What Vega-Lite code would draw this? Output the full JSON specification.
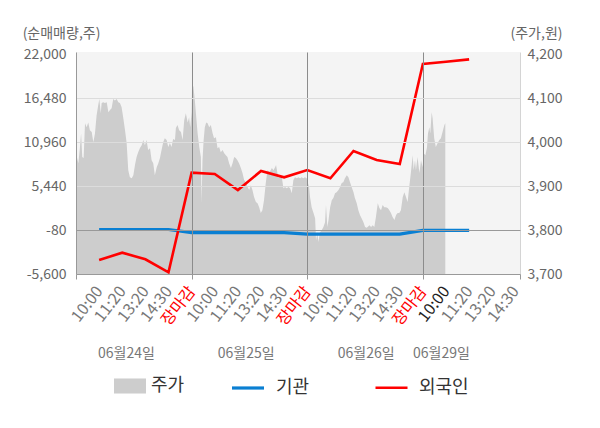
{
  "$schema": "https://vega.github.io/schema/vega-lite/v6.json",
  "width": 444,
  "height": 222,
  "autosize": {"type": "none"},
  "padding": {"left": 76, "top": 52, "right": 80, "bottom": 154},
  "background": "white",
  "config": {
    "font": "Noto Sans CJK KR",
    "view": {"fill": "#f4f4f4", "stroke": null},
    "axis": {"labelFont": "Noto Sans CJK KR", "titleFont": "Noto Sans CJK KR"},
    "legend": {"labelFont": "Noto Sans CJK KR"}
  },
  "datasets": {
    "price": [
      {"s":0,"p":3975},{"s":0.10,"p":3952},{"s":0.16,"p":3982},{"s":0.22,"p":4020},{"s":0.27,"p":3966},{"s":0.33,"p":3964},{"s":0.39,"p":4043},{"s":0.46,"p":4034},{"s":0.53,"p":4045},{"s":0.60,"p":4027},{"s":0.68,"p":4023},{"s":0.75,"p":4000},{"s":0.82,"p":4020},{"s":0.89,"p":4061},{"s":0.96,"p":4084},{"s":1.01,"p":4098},{"s":1.07,"p":4066},{"s":1.11,"p":4089},{"s":1.18,"p":4091},{"s":1.25,"p":4089},{"s":1.33,"p":4091},{"s":1.40,"p":4068},{"s":1.47,"p":4073},{"s":1.54,"p":4077},{"s":1.61,"p":4098},{"s":1.68,"p":4095},{"s":1.76,"p":4098},{"s":1.83,"p":4091},{"s":1.90,"p":4089},{"s":1.97,"p":4080},{"s":2.04,"p":4057},{"s":2.12,"p":4027},{"s":2.19,"p":3998},{"s":2.26,"p":3936},{"s":2.33,"p":3920},{"s":2.41,"p":3918},{"s":2.48,"p":3925},{"s":2.55,"p":3948},{"s":2.62,"p":3966},{"s":2.69,"p":3977},{"s":2.76,"p":3986},{"s":2.84,"p":3993},{"s":2.91,"p":4005},{"s":2.98,"p":3993},{"s":3.05,"p":4005},{"s":3.12,"p":3982},{"s":3.20,"p":3986},{"s":3.27,"p":3959},{"s":3.34,"p":3952},{"s":3.41,"p":3925},{"s":3.49,"p":3943},{"s":3.56,"p":3952},{"s":3.63,"p":3964},{"s":3.70,"p":3982},{"s":3.77,"p":4000},{"s":3.84,"p":4009},{"s":3.92,"p":4005},{"s":3.99,"p":3989},{"s":4.06,"p":3998},{"s":4.13,"p":3989},{"s":4.20,"p":4007},{"s":4.28,"p":4005},{"s":4.32,"p":4032},{"s":4.39,"p":4039},{"s":4.46,"p":4027},{"s":4.54,"p":4023},{"s":4.61,"p":4005},{"s":4.68,"p":4050},{"s":4.75,"p":4066},{"s":4.83,"p":4045},{"s":4.89,"p":4057},{"s":4.94,"p":4034},{"s":5.00,"p":4068},{"s":5.02,"p":4136},{"s":5.08,"p":4125},{"s":5.14,"p":4095},{"s":5.20,"p":4057},{"s":5.26,"p":4020},{"s":5.33,"p":3989},{"s":5.40,"p":3966},{"s":5.43,"p":3861},{"s":5.47,"p":3959},{"s":5.52,"p":4005},{"s":5.57,"p":4034},{"s":5.63,"p":4045},{"s":5.69,"p":4043},{"s":5.76,"p":4034},{"s":5.83,"p":4039},{"s":5.91,"p":4020},{"s":5.97,"p":4009},{"s":6.05,"p":4011},{"s":6.12,"p":3986},{"s":6.19,"p":3989},{"s":6.26,"p":3977},{"s":6.34,"p":3982},{"s":6.41,"p":3975},{"s":6.48,"p":3970},{"s":6.55,"p":3966},{"s":6.62,"p":3952},{"s":6.70,"p":3941},{"s":6.77,"p":3952},{"s":6.84,"p":3966},{"s":6.91,"p":3964},{"s":6.98,"p":3959},{"s":7.05,"p":3952},{"s":7.13,"p":3941},{"s":7.20,"p":3930},{"s":7.27,"p":3914},{"s":7.34,"p":3909},{"s":7.42,"p":3898},{"s":7.49,"p":3891},{"s":7.56,"p":3902},{"s":7.63,"p":3891},{"s":7.70,"p":3875},{"s":7.78,"p":3864},{"s":7.85,"p":3861},{"s":7.92,"p":3852},{"s":7.99,"p":3839},{"s":8.06,"p":3845},{"s":8.13,"p":3868},{"s":8.21,"p":3909},{"s":8.28,"p":3936},{"s":8.35,"p":3932},{"s":8.42,"p":3936},{"s":8.47,"p":3941},{"s":8.54,"p":3936},{"s":8.61,"p":3943},{"s":8.65,"p":3948},{"s":8.71,"p":3930},{"s":8.77,"p":3918},{"s":8.83,"p":3925},{"s":8.90,"p":3920},{"s":8.97,"p":3895},{"s":9.04,"p":3898},{"s":9.11,"p":3895},{"s":9.19,"p":3898},{"s":9.26,"p":3895},{"s":9.33,"p":3884},{"s":9.40,"p":3914},{"s":9.47,"p":3920},{"s":9.55,"p":3918},{"s":9.62,"p":3920},{"s":9.69,"p":3918},{"s":9.76,"p":3920},{"s":9.83,"p":3918},{"s":9.90,"p":3920},{"s":9.98,"p":3918},{"s":10.02,"p":3909},{"s":10.08,"p":3898},{"s":10.12,"p":3875},{"s":10.19,"p":3852},{"s":10.27,"p":3839},{"s":10.34,"p":3827},{"s":10.38,"p":3777},{"s":10.44,"p":3795},{"s":10.48,"p":3773},{"s":10.55,"p":3795},{"s":10.63,"p":3800},{"s":10.70,"p":3807},{"s":10.77,"p":3818},{"s":10.81,"p":3857},{"s":10.87,"p":3807},{"s":10.92,"p":3823},{"s":10.99,"p":3852},{"s":11.06,"p":3868},{"s":11.13,"p":3873},{"s":11.20,"p":3884},{"s":11.27,"p":3886},{"s":11.35,"p":3891},{"s":11.42,"p":3898},{"s":11.49,"p":3907},{"s":11.56,"p":3909},{"s":11.63,"p":3918},{"s":11.71,"p":3925},{"s":11.78,"p":3920},{"s":11.85,"p":3909},{"s":11.92,"p":3898},{"s":12.00,"p":3886},{"s":12.06,"p":3873},{"s":12.14,"p":3861},{"s":12.21,"p":3845},{"s":12.28,"p":3834},{"s":12.35,"p":3827},{"s":12.43,"p":3818},{"s":12.50,"p":3807},{"s":12.57,"p":3805},{"s":12.61,"p":3807},{"s":12.69,"p":3811},{"s":12.76,"p":3807},{"s":12.83,"p":3811},{"s":12.90,"p":3807},{"s":12.97,"p":3830},{"s":13.05,"p":3861},{"s":13.12,"p":3850},{"s":13.19,"p":3845},{"s":13.26,"p":3857},{"s":13.33,"p":3852},{"s":13.40,"p":3852},{"s":13.48,"p":3850},{"s":13.55,"p":3845},{"s":13.62,"p":3839},{"s":13.69,"p":3830},{"s":13.77,"p":3823},{"s":13.84,"p":3834},{"s":13.91,"p":3839},{"s":13.98,"p":3839},{"s":14.05,"p":3845},{"s":14.13,"p":3875},{"s":14.20,"p":3886},{"s":14.27,"p":3875},{"s":14.34,"p":3864},{"s":14.41,"p":3898},{"s":14.48,"p":3930},{"s":14.56,"p":3970},{"s":14.60,"p":3936},{"s":14.66,"p":3959},{"s":14.70,"p":3936},{"s":14.77,"p":3966},{"s":14.85,"p":3930},{"s":14.92,"p":3959},{"s":14.99,"p":3943},{"s":15.03,"p":3975},{"s":15.11,"p":3970},{"s":15.18,"p":3989},{"s":15.22,"p":4020},{"s":15.28,"p":4034},{"s":15.32,"p":4020},{"s":15.38,"p":4068},{"s":15.42,"p":4055},{"s":15.49,"p":4009},{"s":15.56,"p":3989},{"s":15.64,"p":3998},{"s":15.71,"p":4005},{"s":15.78,"p":4009},{"s":15.85,"p":4023},{"s":15.93,"p":4039},{"s":15.97,"p":4043}
    ],
    "flow": [
      {"s":1,"series":"기관","v":-10},{"s":2,"series":"기관","v":-10},{"s":3,"series":"기관","v":-10},{"s":4,"series":"기관","v":-10},{"s":5,"series":"기관","v":-410},{"s":6,"series":"기관","v":-410},{"s":7,"series":"기관","v":-410},{"s":8,"series":"기관","v":-410},{"s":9,"series":"기관","v":-410},{"s":10,"series":"기관","v":-580},{"s":11,"series":"기관","v":-580},{"s":12,"series":"기관","v":-580},{"s":13,"series":"기관","v":-580},{"s":14,"series":"기관","v":-580},{"s":15,"series":"기관","v":-110},{"s":16,"series":"기관","v":-110},{"s":17,"series":"기관","v":-110},
      {"s":1,"series":"외국인","v":-3842},{"s":2,"series":"외국인","v":-2925},{"s":3,"series":"외국인","v":-3754},{"s":4,"series":"외국인","v":-5386},{"s":5,"series":"외국인","v":7123},{"s":6,"series":"외국인","v":6960},{"s":7,"series":"외국인","v":4950},{"s":8,"series":"외국인","v":7337},{"s":9,"series":"외국인","v":6546},{"s":10,"series":"외국인","v":7462},{"s":11,"series":"외국인","v":6420},{"s":12,"series":"외국인","v":9849},{"s":13,"series":"외국인","v":8718},{"s":14,"series":"외국인","v":8216},{"s":15,"series":"외국인","v":20776},{"s":16,"series":"외국인","v":21065},{"s":17,"series":"외국인","v":21366}
    ]
  },
  "layer": [
    {
      "data": {"name": "price"},
      "mark": {"type": "area", "interpolate": "linear"},
      "encoding": {
        "x": {
          "field": "s",
          "type": "quantitative",
          "scale": {"domain": [0, 19.2], "nice": false, "zero": false},
          "axis": {
            "orient": "bottom",
            "title": null,
            "values": [0, 1, 2, 3, 4, 5, 6, 7, 8, 9, 10, 11, 12, 13, 14, 15, 16, 17, 18, 19, 19.2],
            "labelExpr": "datum.value < 0.5 || datum.value > 19.1 ? '' : (datum.value % 5 == 0 ? '장마감' : ['', '10:00', '11:20', '13:20', '14:30'][datum.value % 5])",
            "labelAngle": -52,
            "labelAlign": "right",
            "labelBaseline": "middle",
            "labelFontSize": 16,
            "labelPadding": 9,
            "labelOverlap": false,
            "labelFlush": false,
            "labelColor": {
              "condition": [
                {"test": "datum.value % 5 == 0", "value": "#ff0000"},
                {"test": "datum.value == 16", "value": "#222222"}
              ],
              "value": "#777777"
            },
            "tickSize": 5,
            "tickColor": {
              "condition": {"test": "datum.value % 5 == 0 || datum.value > 19.1", "value": "#999999"},
              "value": "transparent"
            },
            "domainColor": "#999999",
            "grid": true,
            "gridColor": {
              "condition": {"test": "datum.value % 5 == 0 && datum.value > 0.5 && datum.value < 19", "value": "#8c8c8c"},
              "value": "transparent"
            },
            "zindex": 1
          }
        },
        "y": {
          "field": "p",
          "type": "quantitative",
          "stack": null,
          "scale": {"domain": [3700, 4205.25], "nice": false, "zero": false},
          "axis": {
            "orient": "right",
            "values": [3700, 3800, 3900, 4000, 4100, 4200],
            "labelExpr": "format(datum.value, ',')",
            "labelFontSize": 14,
            "labelColor": "#666666",
            "labelPadding": 7,
            "ticks": false,
            "grid": false,
            "domainColor": "#d4d4d4",
            "title": "(주가,원)",
            "titleAngle": 0,
            "titleAlign": "center",
            "titleBaseline": "middle",
            "titleX": 16,
            "titleY": -19,
            "titleFontSize": 14,
            "titleFontWeight": "normal",
            "titleColor": "#666666"
          }
        },
        "fill": {
          "datum": "주가",
          "type": "nominal",
          "scale": {"range": ["#cdcdcd"]},
          "legend": {
            "orient": "none",
            "legendX": 38,
            "legendY": 318,
            "title": null,
            "symbolType": "M-1,-0.47H1V0.47H-1Z",
            "symbolSize": 1024,
            "symbolStrokeWidth": 0,
            "labelFontSize": 18,
            "labelColor": "#333333",
            "labelOffset": 5
          }
        }
      }
    },
    {
      "data": {"name": "flow"},
      "mark": {"type": "line", "interpolate": "linear"},
      "encoding": {
        "x": {
          "field": "s",
          "type": "quantitative",
          "scale": {"domain": [0, 19.2], "nice": false, "zero": false},
          "axis": {
            "orient": "bottom",
            "title": null,
            "values": [2.16, 7.34, 12.53, 15.78],
            "labelExpr": "datum.value < 5 ? '06월24일' : datum.value < 10 ? '06월25일' : datum.value < 15 ? '06월26일' : '06월29일'",
            "labelAngle": 0,
            "labelAlign": "center",
            "labelBaseline": "middle",
            "labelFontSize": 14,
            "labelColor": "#777777",
            "labelPadding": 4,
            "labelOverlap": false,
            "labelFlush": false,
            "ticks": false,
            "domain": false,
            "grid": false,
            "offset": 75
          }
        },
        "y": {
          "field": "v",
          "type": "quantitative",
          "scale": {"domain": [-5600, 22290], "nice": false, "zero": false},
          "axis": {
            "orient": "left",
            "values": [-5600, -80, 5440, 10960, 16480, 22000],
            "labelExpr": "datum.value < 0 ? '-' + format(-datum.value, ',') : format(datum.value, ',')",
            "labelFontSize": 14,
            "labelColor": "#666666",
            "labelPadding": 10,
            "ticks": false,
            "domainColor": "#999999",
            "grid": true,
            "gridColor": {
              "condition": [
                {"test": "datum.value == -80", "value": "#999999"},
                {"test": "datum.value == 22000", "value": "transparent"}
              ],
              "value": "#dcdcdc"
            },
            "title": "(순매매량,주)",
            "titleAngle": 0,
            "titleAlign": "center",
            "titleBaseline": "middle",
            "titleX": -15,
            "titleY": -19,
            "titleFontSize": 14,
            "titleFontWeight": "normal",
            "titleColor": "#666666",
            "zindex": 1
          }
        },
        "color": {
          "field": "series",
          "type": "nominal",
          "scale": {"domain": ["기관", "외국인"], "range": ["#0a7fd2", "#ff0000"]},
          "legend": {
            "orient": "none",
            "legendX": 154,
            "legendY": 318,
            "direction": "horizontal",
            "title": null,
            "symbolType": "stroke",
            "symbolSize": 1024,
            "symbolStrokeWidth": 3,
            "labelFontSize": 18,
            "labelColor": "#333333",
            "labelOffset": 10,
            "columnPadding": 60
          }
        },
        "strokeWidth": {
          "field": "series",
          "type": "nominal",
          "scale": {"domain": ["기관", "외국인"], "range": [3.2, 2.6]},
          "legend": null
        }
      }
    }
  ],
  "resolve": {
    "scale": {"y": "independent"},
    "axis": {"x": "independent"}
  }
}
